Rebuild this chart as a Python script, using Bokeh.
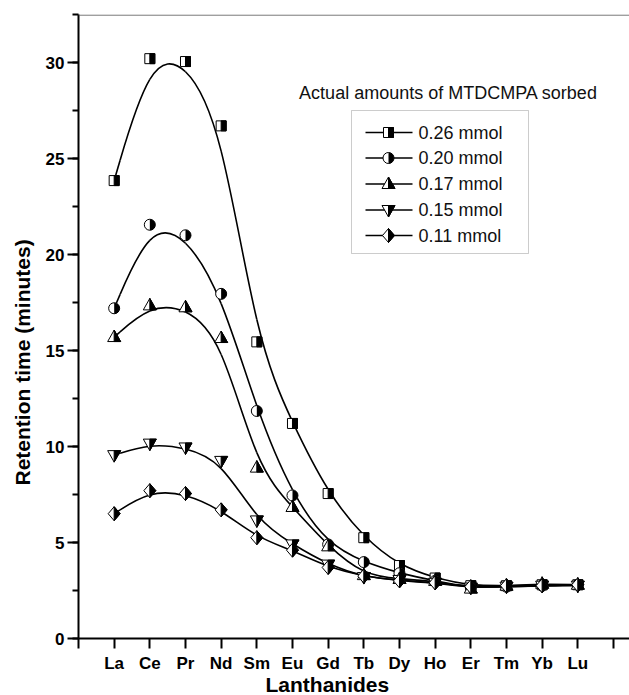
import numpy as np
from bokeh.plotting import figure
from bokeh.models import FixedTicker, SingleIntervalTicker, Label, Span, BoxAnnotation, Title
from bokeh.embed import file_html
from bokeh.resources import INLINE

# ---------------- data ----------------
elements = ["La", "Ce", "Pr", "Nd", "Sm", "Eu", "Gd", "Tb", "Dy", "Ho", "Er", "Tm", "Yb", "Lu"]
amounts = ["0.26 mmol", "0.20 mmol", "0.17 mmol", "0.15 mmol", "0.11 mmol"]
ret_026 = [23.85, 30.2, 30.05, 26.7, 15.45, 11.2, 7.55, 5.25, 3.8, 3.15, 2.75, 2.75, 2.8, 2.8]
ret_020 = [17.2, 21.55, 21.0, 17.95, 11.85, 7.45, 4.9, 3.98, 3.4, 3.0, 2.65, 2.7, 2.75, 2.8]
ret_017 = [15.7, 17.35, 17.25, 15.65, 8.9, 6.85, 4.8, 3.3, 3.1, 3.0, 2.6, 2.75, 2.85, 2.8]
ret_015 = [9.55, 10.15, 9.95, 9.25, 6.15, 4.9, 3.85, 3.2, 3.05, 2.9, 2.65, 2.7, 2.75, 2.75]
ret_011 = [6.5, 7.7, 7.55, 6.7, 5.25, 4.6, 3.7, 3.25, 3.0, 2.9, 2.7, 2.75, 2.75, 2.8]
series = [ret_026, ret_020, ret_017, ret_015, ret_011]
legend_title = "Actual amounts of MTDCMPA sorbed"
x_title = "Lanthanides"
y_title = "Retention time (minutes)"

# ---------------- geometry ----------------
XMAX, YMAX = 15.45, 32.5
FW, FH = 551, 624
LEFT, TOP, BOTTOM = 78, 14, 57
SX, SY = FW / XMAX, FH / YMAX
FONT = "Liberation Sans"


def dx(px):
    return (px - LEFT) / SX


def dy(py):
    return (TOP + FH - py) / SY


p = figure(width=629, height=695, frame_width=FW, frame_height=FH,
           x_range=(0, XMAX), y_range=(0, YMAX),
           min_border_left=LEFT, min_border_right=0, min_border_top=TOP,
           min_border_bottom=BOTTOM, output_backend="svg", toolbar_location=None)
p.outline_line_color = None
p.xgrid.visible = False
p.ygrid.visible = False
p.background_fill_color = "white"
p.border_fill_color = "white"

# axes
xpos = list(range(len(elements) + 2))
p.xaxis.ticker = FixedTicker(ticks=xpos)
overrides = {i + 1: el for i, el in enumerate(elements)}
overrides[0] = ""
overrides[len(elements) + 1] = ""
p.xaxis.major_label_overrides = overrides
p.yaxis.ticker = SingleIntervalTicker(interval=5, num_minor_ticks=2)
for ax in (p.xaxis, p.yaxis):
    ax.axis_line_width = 2
    ax.axis_line_color = "black"
    ax.major_tick_line_width = 2
    ax.minor_tick_line_width = 2
    ax.major_tick_in = 0
    ax.minor_tick_in = 0
    ax.major_label_text_font = FONT
    ax.major_label_text_font_style = "bold"
    ax.major_label_text_font_size = "17px"
    ax.major_label_text_color = "black"
p.xaxis.major_tick_out = 10
p.xaxis.minor_tick_line_color = None
p.xaxis.major_label_standoff = 5
p.yaxis.major_tick_out = 11
p.yaxis.minor_tick_out = 6
p.yaxis.major_label_standoff = 3

p.add_layout(Span(location=YMAX - 0.03, dimension="width", line_color="#555555", line_width=1))

# axis titles
p.add_layout(Title(text=x_title, align="left", offset=187, standoff=-10, text_color="black",
                   text_font=FONT, text_font_size="21px", text_font_style="bold"), "below")
p.add_layout(Title(text=y_title, align="left", offset=153, standoff=17, text_color="black",
                   text_font=FONT, text_font_size="21px", text_font_style="bold"), "left")

# legend box (under the glyphs)
p.add_layout(BoxAnnotation(left=dx(351), right=dx(528), top=dy(110), bottom=dy(253),
                           fill_color="white", fill_alpha=1, line_color="#555555",
                           line_width=1, level="underlay"))


# curves: cubic B-spline with the data points as control points (ends clamped)
def bspline_bezier(xv, yv):
    qx = np.concatenate([[xv[0]] * 2, xv, [xv[-1]] * 2])
    qy = np.concatenate([[yv[0]] * 2, yv, [yv[-1]] * 2])
    out = {}
    for name, q in (("x", qx), ("y", qy)):
        a, b, c, d = q[:-3], q[1:-2], q[2:-1], q[3:]
        out[name] = ((a + 4 * b + c) / 6, (2 * b + c) / 3, (b + 2 * c) / 3, (b + 4 * c + d) / 6)
    return out


xs = np.arange(1, len(elements) + 1, dtype=float)
for vals in series:
    bz = bspline_bezier(xs, np.array(vals, dtype=float))
    p.bezier(x0=bz["x"][0], y0=bz["y"][0], cx0=bz["x"][1], cy0=bz["y"][1],
             cx1=bz["x"][2], cy1=bz["y"][2], x1=bz["x"][3], y1=bz["y"][3],
             line_color="black", line_width=1.6)

# marker shapes in pixel offsets (y downwards): full outline and right-half fill
shapes = [
    ([(-5, -5), (5, -5), (5, 5), (-5, 5)], [(0, -5), (5, -5), (5, 5), (0, 5)]),
    None,  # circle
    ([(0, -7), (6.5, 4.5), (-6.5, 4.5)], [(0, -7), (6.5, 4.5), (0, 4.5)]),
    ([(0, 7), (6.5, -4.5), (-6.5, -4.5)], [(0, 7), (6.5, -4.5), (0, -4.5)]),
    ([(0, -7), (6, 0), (0, 7), (-6, 0)], [(0, -7), (6, 0), (0, 7)]),
]


def draw_markers(xv, yv, k):
    xv = list(xv); yv = list(yv)
    if shapes[k] is None:
        p.scatter(xv, yv, marker="circle", size=11, fill_color="white",
                  line_color="black", line_width=1)
        p.wedge(x=xv, y=yv, radius=5.5, radius_units="screen",
                start_angle=-np.pi / 2, end_angle=np.pi / 2,
                fill_color="black", line_color=None)
        return
    full, half = shapes[k]
    fx = [[x + vx / SX for vx, vy in full] for x in xv]
    fy = [[y - vy / SY for vx, vy in full] for y in yv]
    hx = [[x + vx / SX for vx, vy in half] for x in xv]
    hy = [[y - vy / SY for vx, vy in half] for y in yv]
    p.patches(fx, fy, fill_color="white", line_color="black", line_width=1)
    p.patches(hx, hy, fill_color="black", line_color="black", line_width=1)


for k, vals in enumerate(series):
    draw_markers(xs, vals, k)

# legend
p.add_layout(Label(x=dx(448), y=dy(92), text=legend_title, text_font=FONT,
                   text_font_size="18px", text_align="center", text_baseline="middle",
                   text_color="#111111"))
row_y = [132, 157.5, 183.5, 209.5, 235]
for k, name in enumerate(amounts):
    yy = dy(row_y[k])
    p.line([dx(365), dx(412)], [yy, yy], line_color="black", line_width=1.6)
    draw_markers([dx(388)], [yy], k)
    p.add_layout(Label(x=dx(418), y=yy, text=name, text_font=FONT, text_font_size="18px",
                       text_baseline="middle", text_align="left", text_color="#111111"))

open("out.html", "w").write(file_html(p, INLINE))
